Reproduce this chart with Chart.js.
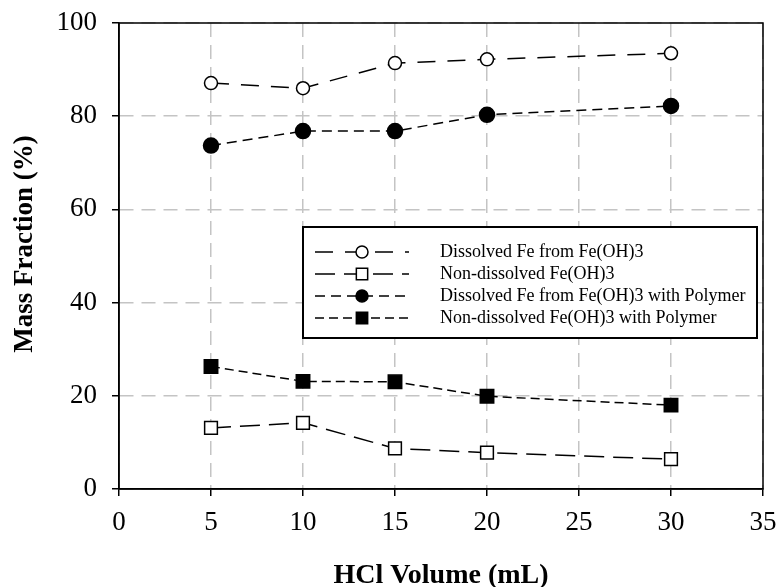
<!DOCTYPE html>
<html>
<head>
<meta charset="utf-8">
<script src="https://cdn.jsdelivr.net/npm/chart.js@4"></script>
<style>
  body { margin: 0; background: #fff; }
</style>
</head>
<body>
<canvas id="massChart" width="777" height="587"></canvas>
<script>
const hclVolume = [5, 10, 15, 20, 30];
const dissolvedFe = [87.1, 86.0, 91.4, 92.2, 93.5];
const nonDissolved = [13.1, 14.2, 8.7, 7.8, 6.4];
const dissolvedFePolymer = [73.7, 76.8, 76.8, 80.3, 82.2];
const nonDissolvedPolymer = [26.3, 23.1, 23.0, 19.9, 18.0];
const xTicks = [0, 5, 10, 15, 20, 25, 30, 35];
const yTicks = [0, 20, 40, 60, 80, 100];
const xTitle = 'HCl Volume (mL)';
const yTitle = 'Mass Fraction (%)';

const serif = '"Liberation Serif", "Times New Roman", serif';

function points(values) {
    return hclVolume.map((x, i) => ({ x: x, y: values[i] }));
}

function series(label, values, dash, style, filled, radius) {
    return {
        label: label,
        data: points(values),
        borderColor: '#000',
        borderWidth: 1.5,
        borderDash: dash,
        tension: 0,
        fill: false,
        pointStyle: style,
        pointRadius: radius,
        pointHoverRadius: radius,
        pointBorderWidth: 1.5,
        pointBorderColor: '#000',
        pointBackgroundColor: filled ? '#000' : '#fff'
    };
}

// frame, axis titles and the boxed legend are drawn by hand
const framePlugin = {
    id: 'frame',
    afterDraw(chart) {
        const ctx = chart.ctx;
        const a = chart.chartArea;
        ctx.save();
        ctx.strokeStyle = '#000';
        ctx.lineWidth = 1.5;
        ctx.strokeRect(a.left, a.top, a.right - a.left, a.bottom - a.top);

        // axis titles
        ctx.fillStyle = '#000';
        ctx.textAlign = 'center';
        ctx.textBaseline = 'alphabetic';
        ctx.font = 'bold 28px ' + serif;
        ctx.fillText(xTitle, (a.left + a.right) / 2, 583);
        ctx.save();
        ctx.translate(32, 244);
        ctx.rotate(-Math.PI / 2);
        ctx.font = 'bold 27px ' + serif;
        ctx.fillText(yTitle, 0, 0);
        ctx.restore();

        // legend
        const box = { x: 303, y: 227, w: 454, h: 111 };
        ctx.fillStyle = '#fff';
        ctx.fillRect(box.x, box.y, box.w, box.h);
        ctx.lineWidth = 2;
        ctx.strokeRect(box.x, box.y, box.w, box.h);

        const rows = [252, 274, 296, 318];
        chart.data.datasets.forEach((ds, i) => {
            const y = rows[i];
            ctx.save();
            ctx.strokeStyle = '#000';
            ctx.lineWidth = 1.5;
            ctx.setLineDash(ds.borderDash);
            ctx.beginPath();
            ctx.moveTo(315, y);
            ctx.lineTo(409, y);
            ctx.stroke();
            ctx.restore();
            ctx.save();
            ctx.fillStyle = ds.pointBackgroundColor;
            ctx.strokeStyle = '#000';
            ctx.lineWidth = 1.5;
            Chart.helpers.drawPoint(ctx, {
                pointStyle: ds.pointStyle,
                radius: ds.pointStyle === 'rect' ? 8 : 6,
                rotation: 0,
                borderWidth: 1.5
            }, 362, y);
            ctx.restore();
            ctx.fillStyle = '#000';
            ctx.font = '18px ' + serif;
            ctx.textBaseline = 'middle';
            ctx.textAlign = 'left';
            ctx.fillText(ds.label, 440, y);
        });
        ctx.restore();
    }
};

const gridOpts = {
    color: '#c4c4c4',
    lineWidth: 1.5,
    tickColor: '#000',
    tickLength: 7,
    tickWidth: 1.5
};

new Chart(document.getElementById('massChart').getContext('2d'), {
    type: 'line',
    data: {
        datasets: [
            series('Dissolved Fe from Fe(OH)3', dissolvedFe, [18, 12], 'circle', false, 6.5),
            series('Non-dissolved Fe(OH)3', nonDissolved, [20, 9], 'rect', false, 9),
            series('Dissolved Fe from Fe(OH)3 with Polymer', dissolvedFePolymer, [10, 6], 'circle', true, 7.5),
            series('Non-dissolved Fe(OH)3 with Polymer', nonDissolvedPolymer, [9, 5], 'rect', true, 9.5)
        ]
    },
    options: {
        responsive: false,
        animation: false,
        layout: { padding: { top: 23, right: 14, left: 0, bottom: 0 } },
        plugins: {
            legend: { display: false },
            tooltip: { enabled: false }
        },
        scales: {
            x: {
                type: 'linear',
                min: 0,
                max: 35,
                afterBuildTicks: s => { s.ticks = xTicks.map(v => ({ value: v })); },
                afterFit: s => { s.height = 98; s.paddingRight = 0; s.paddingLeft = 0; },
                grid: gridOpts,
                border: { display: true, color: '#000', width: 1.5, dash: [14, 8] },
                ticks: {
                    color: '#000',
                    font: { family: serif, size: 27 },
                    padding: 11
                }
            },
            y: {
                min: 0,
                max: 100,
                afterBuildTicks: s => { s.ticks = yTicks.map(v => ({ value: v })); },
                afterFit: s => { s.width = 119; s.paddingTop = 0; s.paddingBottom = 0; },
                grid: gridOpts,
                border: { display: true, color: '#000', width: 1.5, dash: [14, 8] },
                ticks: {
                    color: '#000',
                    font: { family: serif, size: 27 },
                    padding: 15
                }
            }
        }
    },
    plugins: [framePlugin]
});
</script>
</body>
</html>
